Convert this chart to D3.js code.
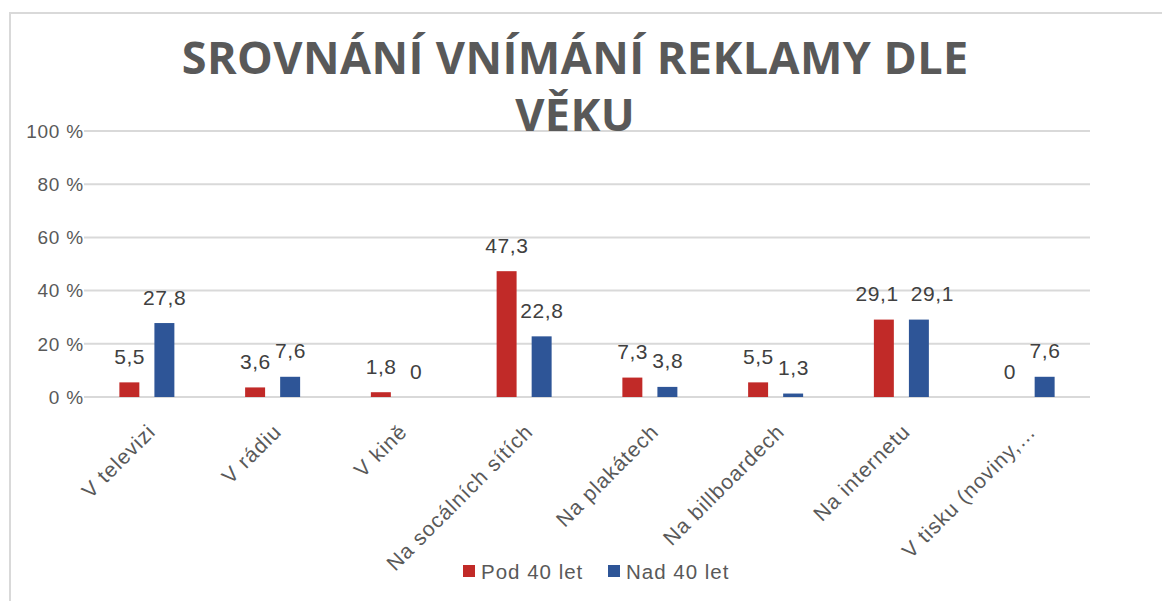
<!DOCTYPE html>
<html>
<head>
<meta charset="utf-8">
<script src="https://cdn.jsdelivr.net/npm/d3@7"></script>
<style>
  html, body { margin: 0; padding: 0; background: #fff; }
  svg { display: block; }
</style>
</head>
<body>
<svg id="chart" width="1162" height="601"></svg>
<script>
const categories = ["V televizi", "V rádiu", "V kině", "Na socálních sítích", "Na plakátech", "Na billboardech", "Na internetu", "V tisku (noviny,…"];
const seriesNames = ["Pod 40 let", "Nad 40 let"];
const pod40 = [5.5, 3.6, 1.8, 47.3, 7.3, 5.5, 29.1, 0];
const nad40 = [27.8, 7.6, 0, 22.8, 3.8, 1.3, 29.1, 7.6];
const yTicks = [0, 20, 40, 60, 80, 100];
const titleLines = ["SROVNÁNÍ VNÍMÁNÍ REKLAMY DLE", "VĚKU"];

const colors = ["#C12A28", "#2E5597"];
const seriesValues = [pod40, nad40];

const svg = d3.select("#chart");
const W = 1162, H = 601;
const plot = { left: 84, right: 1090, top: 131, bottom: 397 };

// frame
svg.append("path")
  .attr("d", `M10,${H} L10,13 L${W},13`)
  .attr("fill", "none").attr("stroke", "#d9d9d9").attr("stroke-width", 2);

const x0 = d3.scaleBand().domain(categories).range([plot.left, plot.right]).paddingInner(0).paddingOuter(0);
const bw = x0.bandwidth();
const x1 = d3.scaleBand().domain(seriesNames).range([bw / 2 - 27.5, bw / 2 + 27.5]).paddingInner(0.43).paddingOuter(0);
const y = d3.scaleLinear().domain([0, 100]).range([plot.bottom, plot.top]);

const labelFont = "'Liberation Sans', Arial, sans-serif";

// gridlines
svg.append("g").selectAll("line").data(yTicks).join("line")
  .attr("x1", plot.left).attr("x2", plot.right)
  .attr("y1", d => y(d)).attr("y2", d => y(d))
  .attr("stroke", "#d9d9d9").attr("stroke-width", 2);

// y tick labels
svg.append("g").selectAll("text").data(yTicks).join("text")
  .attr("x", 84).attr("y", d => y(d)).attr("dy", "0.36em")
  .attr("text-anchor", "end")
  .attr("font-family", labelFont).attr("font-size", 19)
  .attr("letter-spacing", "0.8px")
  .attr("fill", "#595959")
  .text(d => d + " %");

// title
const title = svg.append("g").attr("font-family", "'Open Sans', sans-serif").attr("font-weight", 700)
  .attr("font-size", 45).attr("fill", "#595959").attr("text-anchor", "middle");
const t1 = title.append("text").attr("x", 575).attr("y", 74).text(titleLines[0]);
const natural = t1.node().getComputedTextLength();
const ls = (787 - natural) / titleLines[0].length;
t1.attr("letter-spacing", ls + "px").attr("x", 575 + ls / 2);
title.append("text").attr("x", 575 + ls / 2).attr("y", 131).attr("letter-spacing", ls + "px").text(titleLines[1]);

// bars
const groups = svg.append("g").selectAll("g").data(categories).join("g")
  .attr("transform", d => `translate(${x0(d)},0)`);

groups.selectAll("rect").data((d, i) => seriesNames.map((s, j) => ({ s, j, v: seriesValues[j][i] })))
  .join("rect")
  .attr("x", d => x1(d.s)).attr("width", x1.bandwidth())
  .attr("y", d => y(d.v)).attr("height", d => y(0) - y(d.v))
  .attr("fill", d => colors[d.j]);

// data labels
groups.each(function (cat, i) {
  const g = d3.select(this);
  const items = seriesNames.map((s, j) => ({ s, j, v: seriesValues[j][i] }));
  const texts = items.map(d => g.append("text")
    .attr("x", x1(d.s) + x1.bandwidth() / 2 + 0.3)
    .attr("y", y(d.v) - 18.5)
    .attr("text-anchor", "middle")
    .attr("font-family", labelFont).attr("font-size", 21)
    .attr("letter-spacing", "0.6px")
    .attr("fill", "#404040")
    .text(String(d.v).replace(".", ",")));
  // avoid overlap between neighbouring labels at similar heights
  const bA = texts[0].node().getBBox(), bB = texts[1].node().getBBox();
  const vOverlap = !(bA.y + bA.height < bB.y || bB.y + bB.height < bA.y);
  if (vOverlap && bA.x + bA.width > bB.x - 2) {
    const cA = +texts[0].attr("x") - 7;
    texts[0].attr("x", cA);
    texts[1].attr("x", cA + bA.width / 2 + 12 + bB.width / 2);
  }
});

// category labels
svg.append("g").selectAll("text").data(categories).join("text")
  .attr("transform", d => `translate(${x0(d) + bw / 2 + 10},433) rotate(-45)`)
  .attr("text-anchor", "end")
  .attr("font-family", labelFont).attr("font-size", 21)
  .attr("letter-spacing", "1px")
  .attr("fill", "#595959")
  .text(d => d);

// legend
const legend = svg.append("g");
const legendX = [463, 608];
seriesNames.forEach((s, j) => {
  legend.append("rect").attr("x", legendX[j]).attr("y", 565).attr("width", 12).attr("height", 12).attr("fill", colors[j]);
  legend.append("text").attr("x", legendX[j] + 18).attr("y", 579)
    .attr("font-family", labelFont).attr("font-size", 20.5)
    .attr("letter-spacing", "1px")
    .attr("fill", "#595959").text(s);
});
</script>
</body>
</html>
